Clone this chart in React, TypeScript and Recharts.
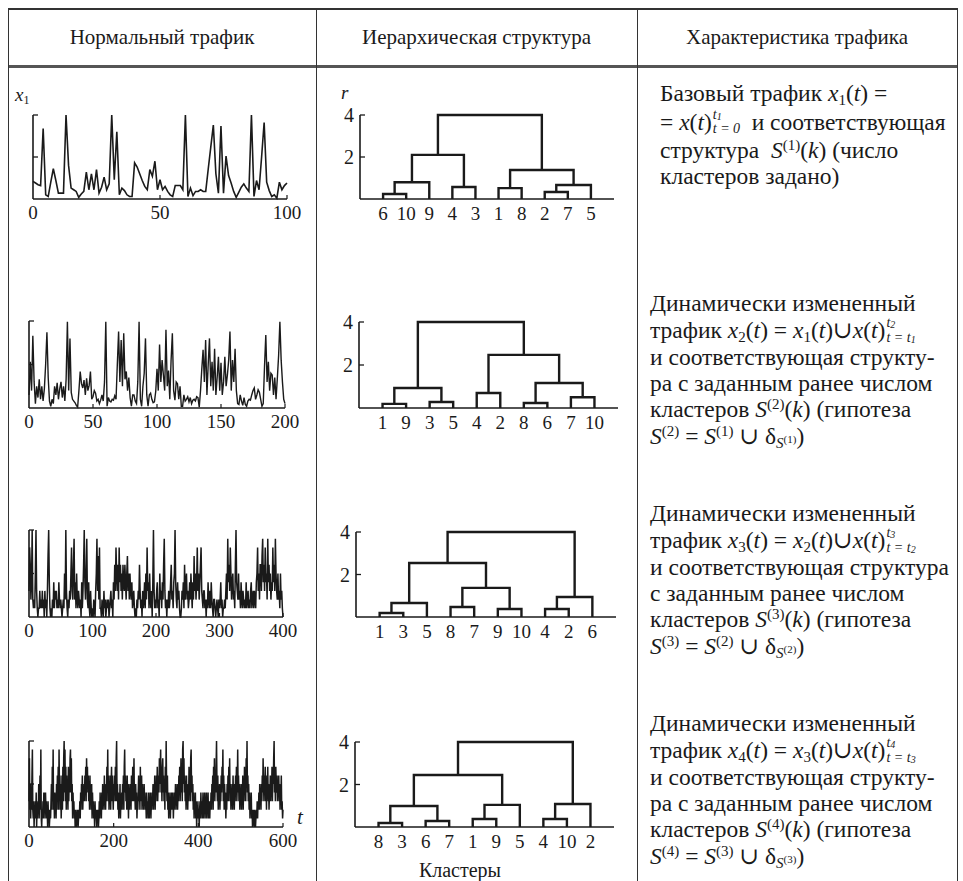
import React from "react";
import { LineChart, Line, XAxis, YAxis } from "recharts";

const SERIF = '"Liberation Serif", "DejaVu Serif", serif';
const INK = "#1a1a1a";

// traffic samples (0..10 scale)
const traffic1 = [
  2.1, 1.9, 1.7, 1.6, 8.4, 0.5, 0.3, 2.0, 3.6, 2.2,
  0.7, 0.7, 0.7, 10, 4, 1.3, 1.1, 0.9, 0.2, 0.6,
  0.9, 3.2, 1.1, 3.0, 1.1, 3.5, 0.7, 1.4, 2.6, 1.1,
  1.8, 10, 2.3, 8, 0.5, 1.3, 1.0, 0.5, 0.3, 0.3,
  4.3, 3.8, 3.0, 2.2, 1.5, 1.1, 3.5, 2.7, 4.5, 1.1,
  2.3, 1.1, 1.5, 0.9, 0.5, 0.3, 1.6, 1.6, 1.6, 1.1,
  10, 0.3, 1.3, 0.4, 0.9, 0.9, 1.1, 0.9, 0.9, 3.6,
  6.2, 8.8, 3.0, 0.7, 8.7, 0.7, 5.1, 2.8, 1.9, 0.9,
  0.2, 0.8, 1.4, 1.8, 1.3, 0.9, 10, 0.3, 2.2, 1.1,
  5.0, 9.1, 2.0, 1.0, 0.3, 0.5, 0.1, 2.0, 1.1, 1.6,
  1.9,
];

const traffic2 = [
  1.5, 5.3, 2.0, 8.3, 3.0, 0.5, 2.5, 1.2, 3.3, 1.0,
  2.5, 0.8, 2.2, 5.0, 8.7, 3.5, 0.8, 0.2, 1.0, 0.5,
  2.5, 1.5, 2.9, 1.0, 2.2, 3.0, 1.2, 2.5, 0.8, 3.3,
  9.9, 2.0, 8.0, 1.8, 1.0, 0.8, 0.6, 0.3, 0.1, 2.0,
  4.2, 2.8, 2.3, 3.2, 1.5, 3.4, 2.0, 2.6, 4.2, 1.0,
  1.3, 2.0, 1.7, 0.8, 1.0, 0.5, 0.9, 1.5, 0.8, 3.0,
  9.9, 0.2, 1.2, 0.8, 0.7, 1.0, 0.9, 1.4, 1.0, 5.0,
  8.8, 3.0, 7.8, 2.5, 8.6, 3.3, 4.2, 2.0, 3.5, 1.2,
  0.2, 1.5, 1.5, 0.8, 0.5, 3.0, 9.9, 1.0, 0.2, 2.5,
  4.0, 8.0, 1.5, 0.2, 1.5, 1.7, 1.0, 0.6, 0.7, 1.9,
  4.5, 2.0, 7.3, 3.0, 5.5, 3.8, 2.0, 9.0, 2.5, 4.3,
  1.0, 5.5, 8.6, 2.0, 0.9, 3.0, 2.8, 1.0, 2.5, 0.2,
  0.2, 1.5, 0.8, 1.0, 1.3, 0.7, 1.2, 0.5, 0.9, 1.0,
  0.8, 1.3, 1.2, 0.1, 2.0, 4.5, 6.7, 3.0, 7.8, 1.5,
  5.0, 8.0, 2.5, 5.3, 2.0, 6.8, 1.5, 3.5, 5.9, 2.0,
  5.2, 1.5, 3.0, 5.9, 2.5, 3.8, 5.5, 8.8, 2.0, 5.5,
  3.0, 6.8, 2.0, 0.5, 0.4, 1.5, 0.8, 0.3, 1.2, 0.4,
  0.2, 0.8, 1.0, 0.9, 1.5, 2.0, 2.3, 1.0, 1.5, 2.1,
  1.8, 1.0, 0.2, 0.5, 4.8, 8.4, 3.0, 5.3, 2.0, 4.0,
  3.8, 1.5, 3.5, 1.0, 3.4, 6.0, 9.9, 5.5, 3.0, 1.0,
  0.5,
];

const traffic3 = [
  3, 8, 6, 2, 4, 10, 2, 1, 2, 1,
  5, 10, 3, 1, 0, 1, 1, 3, 1, 2,
  1, 3, 1, 2, 0, 3, 1, 2, 0, 3,
  7, 10, 4, 1, 0, 1, 0, 2, 1, 4,
  1, 3, 2, 3, 1, 2, 1, 4, 2, 1,
  2, 1, 0, 1, 2, 1, 5, 2, 10, 3,
  1, 0, 2, 1, 3, 2, 5, 8, 3, 2,
  6, 9, 2, 4, 1, 5, 2, 1, 3, 2,
  1, 2, 0, 4, 1, 3, 6, 10, 4, 2,
  5, 9, 2, 1, 4, 1, 0, 3, 1, 0,
  1, 0, 2, 1, 0, 3, 5, 9, 3, 7,
  2, 8, 1, 1, 0, 2, 1, 0, 3, 1,
  2, 0, 1, 2, 1, 2, 0, 1, 2, 3,
  1, 2, 0, 4, 2, 6, 3, 8, 5, 3,
  6, 2, 8, 4, 6, 3, 5, 2, 6, 4,
  3, 6, 4, 2, 5, 7, 3, 5, 2, 5,
  3, 2, 4, 1, 2, 3, 1, 0, 1, 0,
  2, 1, 3, 2, 6, 3, 1, 2, 0, 3,
  1, 2, 4, 1, 5, 2, 8, 3, 4, 1,
  5, 2, 1, 3, 0, 4, 10, 3, 1, 2,
  1, 3, 4, 1, 2, 0, 5, 2, 3, 1,
  4, 2, 6, 9, 3, 1, 2, 0, 2, 1,
  3, 1, 2, 4, 6, 2, 3, 1, 4, 5,
  10, 4, 2, 1, 4, 2, 3, 1, 0, 0,
  1, 3, 2, 4, 1, 6, 2, 4, 5, 2,
  3, 1, 2, 4, 2, 5, 3, 1, 4, 2,
  7, 3, 5, 2, 4, 8, 3, 5, 2, 4,
  6, 8, 3, 2, 1, 3, 3, 1, 2, 0,
  2, 1, 4, 2, 1, 3, 1, 4, 2, 1,
  0, 2, 2, 1, 0, 1, 2, 1, 0, 2,
  1, 2, 4, 1, 2, 0, 1, 1, 2, 1,
  3, 5, 2, 9, 4, 6, 3, 8, 5, 2,
  4, 5, 2, 3, 1, 6, 10, 4, 3, 2,
  5, 2, 3, 1, 4, 2, 1, 3, 2, 1,
  2, 1, 4, 1, 2, 3, 1, 2, 1, 3,
  4, 1, 2, 3, 1, 3, 2, 1, 4, 5,
  8, 3, 5, 2, 6, 6, 3, 7, 9, 4,
  6, 3, 8, 4, 5, 2, 9, 4, 6, 3,
  5, 2, 4, 3, 8, 4, 6, 3, 9, 5,
  3, 2, 5, 2, 3, 1, 5, 2, 3, 1,
  0,
];

const traffic4 = [
  3, 8, 2, 5, 1, 4, 2, 6, 9, 2,
  1, 3, 0, 2, 1, 3, 1, 4, 0, 2,
  1, 3, 2, 5, 1, 3, 6, 2, 9, 1,
  0, 2, 1, 3, 1, 4, 2, 4, 1, 4,
  2, 3, 1, 2, 0, 3, 1, 2, 0, 1,
  2, 1, 3, 5, 2, 7, 3, 9, 2, 4,
  1, 4, 2, 3, 1, 5, 2, 6, 3, 7,
  2, 9, 4, 6, 2, 5, 1, 3, 6, 2,
  7, 3, 8, 10, 4, 9, 3, 7, 2, 6,
  3, 5, 2, 7, 3, 6, 4, 8, 9, 4,
  8, 3, 5, 1, 4, 2, 3, 1, 2, 0,
  1, 2, 0, 1, 1, 2, 0, 1, 2, 1,
  3, 1, 4, 2, 5, 3, 6, 2, 4, 3,
  5, 3, 6, 4, 7, 3, 8, 5, 7, 4,
  6, 3, 5, 2, 6, 3, 4, 2, 5, 1,
  4, 2, 3, 1, 2, 0, 3, 1, 2, 1,
  0, 2, 1, 2, 0, 1, 3, 1, 4, 2,
  3, 1, 4, 2, 5, 3, 4, 2, 6, 3,
  4, 2, 5, 3, 7, 4, 9, 3, 6, 2,
  5, 3, 6, 2, 5, 7, 3, 6, 4, 2,
  5, 3, 6, 4, 7, 3, 8, 10, 3, 5,
  2, 4, 1, 3, 2, 5, 1, 3, 2, 4,
  2, 5, 3, 6, 2, 7, 9, 4, 6, 3,
  5, 2, 6, 3, 4, 1, 5, 2, 4, 3,
  5, 2, 6, 3, 4, 7, 3, 5, 8, 3,
  4, 2, 5, 3, 4, 1, 3, 2, 4, 6,
  3, 5, 2, 7, 3, 4, 6, 2, 5, 3,
  4, 2, 5, 3, 4, 2, 3, 1, 4, 2,
  3, 1, 2, 4, 1, 3, 2, 4, 1, 3,
  2, 4, 3, 5, 2, 4, 3, 6, 2, 5,
  3, 6, 4, 7, 3, 5, 6, 4, 8, 5,
  7, 9, 4, 6, 3, 7, 8, 4, 6, 3,
  5, 2, 7, 4, 10, 5, 3, 6, 2, 4,
  1, 3, 2, 4, 1, 3, 2, 4, 3, 2,
  4, 1, 3, 2, 4, 3, 5, 2, 4, 3,
  5, 2, 4, 3, 6, 4, 7, 3, 5, 8,
  4, 6, 3, 9, 10, 5, 8, 4, 6, 3,
  5, 2, 6, 3, 4, 2, 5, 3, 7, 4,
  6, 3, 8, 9, 4, 6, 3, 5, 2, 4,
  1, 3, 2, 4, 1, 3, 0, 2, 1, 3,
  1, 2, 0, 2, 3, 1, 4, 2, 3, 1,
  2, 4, 1, 3, 2, 4, 1, 3, 2, 4,
  1, 3, 2, 4, 1, 3, 2, 1, 3, 2,
  4, 2, 5, 3, 6, 2, 7, 4, 8, 3,
  6, 4, 7, 10, 5, 3, 6, 2, 4, 3,
  5, 2, 4, 3, 6, 4, 7, 5, 9, 3,
  6, 2, 5, 3, 4, 1, 3, 2, 5, 3,
  6, 3, 7, 4, 8, 3, 5, 2, 4, 3,
  5, 2, 6, 3, 4, 2, 5, 3, 6, 4,
  7, 3, 5, 9, 4, 6, 3, 5, 2, 4,
  3, 5, 2, 4, 3, 6, 2, 5, 3, 7,
  4, 6, 3, 8, 5, 10, 4, 6, 3, 5,
  2, 4, 1, 3, 2, 4, 1, 2, 0, 1,
  2, 1, 0, 2, 1, 0, 1, 2, 1, 3,
  1, 3, 2, 4, 2, 5, 3, 4, 2, 5,
  3, 6, 4, 8, 5, 3, 6, 4, 7, 3,
  5, 2, 6, 4, 7, 3, 5, 2, 4, 3,
  6, 3, 5, 4, 7, 3, 6, 5, 8, 10,
  4, 6, 3, 7, 5, 4, 6, 3, 5, 4,
  6, 3, 5, 2, 4, 3, 6, 2, 3, 1,
  2,
];

const timeTicks1 = [0, 50, 100];
const timeTicks2 = [0, 50, 100, 150, 200];
const timeTicks3 = [0, 100, 200, 300, 400];
const timeTicks4 = [0, 200, 400, 600];

// dendrograms: leaf order, then merges [left node, right node, height]
// nodes 0..9 are leaves, merge k creates node 10 + k
const leaves1 = ["6", "10", "9", "4", "3", "1", "8", "2", "7", "5"];
const merges1 = [
  [0, 1, 0.24], [10, 2, 0.8], [3, 4, 0.57], [11, 12, 2.1],
  [5, 6, 0.52], [7, 8, 0.33], [15, 9, 0.67], [14, 16, 1.38], [13, 17, 4],
];

const leaves2 = ["1", "9", "3", "5", "4", "2", "8", "6", "7", "10"];
const merges2 = [
  [0, 1, 0.19], [2, 3, 0.28], [10, 11, 0.93], [4, 5, 0.7],
  [6, 7, 0.23], [8, 9, 0.5], [14, 15, 1.16], [13, 16, 2.47], [12, 17, 4],
];

const leaves3 = ["1", "3", "5", "8", "7", "9", "10", "4", "2", "6"];
const merges3 = [
  [0, 1, 0.19], [10, 2, 0.66], [3, 4, 0.47], [5, 6, 0.38],
  [12, 13, 1.37], [11, 14, 2.54], [7, 8, 0.38], [16, 9, 0.94], [15, 17, 4],
];

const leaves4 = ["8", "3", "6", "7", "1", "9", "5", "4", "10", "2"];
const merges4 = [
  [0, 1, 0.19], [2, 3, 0.28], [10, 11, 0.99], [4, 5, 0.38],
  [13, 6, 1.04], [12, 14, 2.45], [7, 8, 0.38], [16, 9, 1.08], [15, 17, 4],
];

function buildSegments(merges: number[][]) {
  const nodes: { x: number; h: number }[] = [];
  for (let i = 0; i < 10; i++) nodes.push({ x: i, h: 0 });
  return merges.map(([a, b, h]) => {
    const A = nodes[a];
    const B = nodes[b];
    nodes.push({ x: (A.x + B.x) / 2, h });
    return [
      { x: A.x, y: A.h },
      { x: A.x, y: h },
      { x: B.x, y: h },
      { x: B.x, y: B.h },
    ];
  });
}

const axisStyle = { stroke: INK, strokeWidth: 1.6 };

function TrafficChart({ values, ticks, top, bottom, left, right, lineWidth }: any) {
  const data = values.map((v: number, t: number) => ({ t, v }));
  const W = 320;
  const yW = 25;
  const padTop = 10;
  const axisH = 30;
  const H = bottom - top + padTop + axisH;
  const xMax = ticks[ticks.length - 1];
  return (
    <div style={{ position: "absolute", left: 0, top: top - padTop }}>
      <LineChart
        width={W}
        height={H}
        data={data}
        margin={{ top: padTop, left: left - yW, right: W - right, bottom: 0 }}
      >
        <XAxis
          dataKey="t"
          type="number"
          domain={[0, xMax]}
          ticks={ticks}
          interval={0}
          height={axisH}
          tickSize={0}
          tickMargin={0}
          tickLine={false}
          axisLine={axisStyle}
          tick={(p: any) => (
            <g>
              {p.payload.value !== 0 && (
                <line x1={p.x} x2={p.x} y1={p.y} y2={p.y - 4} stroke={INK} strokeWidth={1.2} />
              )}
              <text x={p.x} y={p.y + 20} textAnchor="middle" fontFamily={SERIF} fontSize={19} fill={INK}>
                {p.payload.value}
              </text>
            </g>
          )}
        />
        <YAxis
          type="number"
          domain={[0, 10]}
          ticks={[5, 10]}
          interval={0}
          width={yW}
          tickSize={0}
          tickMargin={0}
          tickLine={false}
          axisLine={axisStyle}
          tick={(p: any) => (
            <line x1={p.x} x2={p.x + 5} y1={p.y} y2={p.y} stroke={INK} strokeWidth={1.3} />
          )}
        />
        <Line
          dataKey="v"
          type="linear"
          stroke={INK}
          strokeWidth={lineWidth}
          dot={false}
          isAnimationActive={false}
        />
      </LineChart>
    </div>
  );
}

function Dendrogram({ leaves, merges, top, bottom, left, right }: any) {
  const X0 = 300;
  const W = 330;
  const yW = 40;
  const padTop = 10;
  const axisH = 30;
  const H = bottom - top + padTop + axisH;
  const segments = buildSegments(merges);
  return (
    <div style={{ position: "absolute", left: X0, top: top - padTop }}>
      <LineChart
        width={W}
        height={H}
        margin={{ top: padTop, left: left - X0 - yW, right: X0 + W - right, bottom: 0 }}
      >
        <XAxis
          dataKey="x"
          type="number"
          domain={[-1, 10]}
          ticks={[0, 1, 2, 3, 4, 5, 6, 7, 8, 9]}
          interval={0}
          height={axisH}
          tickSize={0}
          tickMargin={0}
          tickLine={false}
          axisLine={axisStyle}
          tick={(p: any) => (
            <text x={p.x} y={p.y + 21} textAnchor="middle" fontFamily={SERIF} fontSize={19} fill={INK}>
              {leaves[p.payload.value]}
            </text>
          )}
        />
        <YAxis
          type="number"
          domain={[0, 4]}
          ticks={[2, 4]}
          interval={0}
          width={yW}
          tickSize={0}
          tickMargin={0}
          tickLine={false}
          axisLine={axisStyle}
          tick={(p: any) => (
            <g>
              <line x1={p.x} x2={p.x + 5} y1={p.y} y2={p.y} stroke={INK} strokeWidth={1.3} />
              <text x={p.x - 6} y={p.y + 7} textAnchor="end" fontFamily={SERIF} fontSize={20} fill={INK}>
                {p.payload.value}
              </text>
            </g>
          )}
        />
        {segments.map((seg, i) => (
          <Line
            key={i}
            data={seg}
            dataKey="y"
            type="linear"
            stroke={INK}
            strokeWidth={2.4}
            dot={false}
            isAnimationActive={false}
          />
        ))}
      </LineChart>
    </div>
  );
}

// stacked upper / lower limits after x(t)
function SupSub({ sup, sub, w, subTop = 3 }: any) {
  const part = { position: "absolute" as const, left: 1, fontSize: 14, lineHeight: "13px", fontStyle: "italic", whiteSpace: "nowrap" as const };
  return (
    <span style={{ position: "relative", display: "inline-block", width: w, height: 10 }}>
      <span style={{ ...part, top: -12 }}>{sup}</span>
      <span style={{ ...part, top: subTop }}>{sub}</span>
    </span>
  );
}

const idx = (n: any) => <span style={{ fontSize: 10, position: "relative", top: 1 }}>{n}</span>;

const I = ({ children }: any) => <i>{children}</i>;
const Sb = ({ children }: any) => (
  <span style={{ fontSize: 15, lineHeight: "12px", display: "inline-block", verticalAlign: -4 }}>{children}</span>
);
const Sp = ({ children }: any) => (
  <span style={{ fontSize: 15, lineHeight: "12px", display: "inline-block", verticalAlign: 8 }}>{children}</span>
);

function TextLine({ x, y, children }: any) {
  return (
    <div
      style={{
        position: "absolute",
        left: x,
        top: y - 13,
        height: 26,
        lineHeight: "26px",
        fontSize: 23.5,
        whiteSpace: "nowrap",
        color: INK,
      }}
    >
      {children}
    </div>
  );
}

const hyp = (n: number) => (
  <>
    <I>S</I><Sp>({n})</Sp> = <I>S</I><Sp>({n - 1})</Sp> ∪ δ
    <Sb><I>S</I><span style={{ fontSize: 11, position: "relative", top: -5 }}>({n - 1})</span></Sb>)
  </>
);

export default function App() {
  return (
    <div
      style={{
        position: "relative",
        width: 963,
        height: 881,
        overflow: "hidden",
        background: "#fff",
        fontFamily: SERIF,
        color: INK,
      }}
    >
      <style>{"body{margin:0}"}</style>

      {/* table frame */}
      <div style={{ position: "absolute", left: 8, top: 8, width: 950, height: 1.5, background: "#333" }} />
      <div style={{ position: "absolute", left: 8, top: 65, width: 950, height: 2.5, background: "#555" }} />
      {[8, 316, 637, 957].map((x) => (
        <div key={x} style={{ position: "absolute", left: x, top: 8, width: 1.2, height: 873, background: "#333" }} />
      ))}

      {/* header */}
      {[
        ["Нормальный трафик", 8, 316],
        ["Иерархическая структура", 316, 637],
        ["Характеристика трафика", 637, 957],
      ].map(([label, a, b]: any) => (
        <div
          key={label}
          style={{ position: "absolute", left: a, width: b - a, top: 25, textAlign: "center", fontSize: 21, lineHeight: "24px" }}
        >
          {label}
        </div>
      ))}

      {/* column 1: traffic */}
      <div style={{ position: "absolute", left: 15, top: 84, fontSize: 19, fontStyle: "italic" }}>
        x<span style={{ fontSize: 12, fontStyle: "normal", verticalAlign: -3 }}>1</span>
      </div>
      <TrafficChart values={traffic1} ticks={timeTicks1} top={115} bottom={199} left={33} right={287} lineWidth={1.6} />
      <TrafficChart values={traffic2} ticks={timeTicks2} top={321} bottom={408} left={29} right={285} lineWidth={1.4} />
      <TrafficChart values={traffic3} ticks={timeTicks3} top={530} bottom={617} left={29} right={283} lineWidth={1.5} />
      <TrafficChart values={traffic4} ticks={timeTicks4} top={741} bottom={827} left={29} right={283} lineWidth={1.5} />
      <div style={{ position: "absolute", left: 297, top: 806, fontSize: 21, lineHeight: "22px", fontStyle: "italic" }}>t</div>

      {/* column 2: dendrograms */}
      <div style={{ position: "absolute", left: 341, top: 82, fontSize: 19, fontStyle: "italic" }}>r</div>
      <Dendrogram leaves={leaves1} merges={merges1} top={115} bottom={199} left={360} right={614} />
      <Dendrogram leaves={leaves2} merges={merges2} top={322} bottom={408} left={359} right={618} />
      <Dendrogram leaves={leaves3} merges={merges3} top={532} bottom={617} left={356} right={616} />
      <Dendrogram leaves={leaves4} merges={merges4} top={742} bottom={827} left={355} right={614} />
      <div style={{ position: "absolute", left: 360, width: 200, top: 860, textAlign: "center", fontSize: 20, lineHeight: "20px" }}>
        Кластеры
      </div>

      {/* column 3: description */}
      <TextLine x={660} y={93}>
        Базовый трафик <I>x</I><Sb>1</Sb>(<I>t</I>) =
      </TextLine>
      <TextLine x={660} y={122}>
        = <I>x</I>(<I>t</I>)<SupSub w={34} subTop={2} sup={<>t{idx(1)}</>} sub="t = 0" /> и соответствующая
      </TextLine>
      <TextLine x={660} y={150}>
        структура&nbsp; <I>S</I><Sp>(1)</Sp>(<I>k</I>) (число
      </TextLine>
      <TextLine x={660} y={176}>кластеров задано)</TextLine>

      {[
        { n: 2, y: 303, lines: ["и соответствующая структу-", "ра с заданным ранее числом"] },
        { n: 3, y: 513, lines: ["и соответствующая структура", "с заданным ранее числом"] },
        { n: 4, y: 723, lines: ["и соответствующая структу-", "ра с заданным ранее числом"] },
      ].map(({ n, y, lines }) => (
        <React.Fragment key={n}>
          <TextLine x={650} y={y}>Динамически измененный</TextLine>
          <TextLine x={650} y={y + 27}>
            трафик <I>x</I><Sb>{n}</Sb>(<I>t</I>) = <I>x</I><Sb>{n - 1}</Sb>(<I>t</I>)∪<I>x</I>(<I>t</I>)
            <SupSub w={38} sup={<>t{idx(n)}</>} sub={<>t = t{idx(n - 1)}</>} />
          </TextLine>
          <TextLine x={650} y={y + 54}>{lines[0]}</TextLine>
          <TextLine x={650} y={y + 80}>{lines[1]}</TextLine>
          <TextLine x={650} y={y + 106}>
            кластеров <I>S</I><Sp>({n})</Sp>(<I>k</I>) (гипотеза
          </TextLine>
          <TextLine x={650} y={y + 133}>{hyp(n)}</TextLine>
        </React.Fragment>
      ))}
    </div>
  );
}
